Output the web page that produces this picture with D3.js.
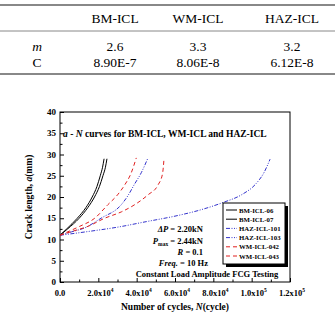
<!DOCTYPE html>
<html>
<head>
<meta charset="utf-8">
<script src="https://cdn.jsdelivr.net/npm/d3@7"></script>
<style>
  body { margin: 0; background: #fff; }
  svg { display: block; }
</style>
</head>
<body>
<div id="chart"></div>
<script>
// table values
const colNames = ['BM-ICL', 'WM-ICL', 'HAZ-ICL'];
const mValues = ['2.6', '3.3', '3.2'];
const cValues = ['8.90E-7', '8.06E-8', '6.12E-8'];

// a - N curves (N in cycles, a in mm)
const bm06N = [0, 3500, 9000, 13500, 16800, 19300, 21000, 22200, 23000];
const bm06A = [11, 12.5, 15, 17.5, 20, 22.5, 25, 27, 29];
const bm07N = [0, 4000, 10000, 14500, 18000, 20600, 22400, 23700, 24500];
const bm07A = [11, 12.5, 15, 17.5, 20, 22.5, 25, 27, 29];
const haz101N = [0, 6000, 12700, 21400, 32000, 35700, 38600, 42500, 45900];
const haz101A = [11, 11.8, 12.7, 15, 18.2, 20.5, 22.8, 25.8, 29.2];
const haz103N = [0, 15000, 30000, 45000, 60000, 72000, 85000, 95000, 102000, 106500, 109600];
const haz103A = [11, 11.9, 12.9, 14.2, 15.5, 16.8, 18.7, 20.6, 23, 25.8, 28.9];
const wm042N = [0, 5000, 10300, 18100, 25000, 30000, 33700, 37000, 39800];
const wm042A = [11, 12, 13.1, 15, 18.2, 20.5, 22.8, 25.5, 29.2];
const wm043N = [0, 7000, 14600, 23300, 32000, 39000, 45900, 51100, 53500, 54300];
const wm043A = [11, 12, 13.1, 15, 16.5, 18.2, 20.5, 22.8, 25.5, 29.2];

const seriesNames = ['BM-ICL-06', 'BM-ICL-07', 'HAZ-ICL-101', 'HAZ-ICL-103', 'WM-ICL-042', 'WM-ICL-043'];
const xTicks = [0, 20000, 40000, 60000, 80000, 100000, 120000];
const xTickLabels = [['0.0', ''], ['2.0x10', '4'], ['4.0x10', '4'], ['6.0x10', '4'], ['8.0x10', '4'], ['1.0x10', '5'], ['1.2x10', '5']];
const yTicks = [0, 5, 10, 15, 20, 25, 30, 35, 40];

const series = [
  { name: seriesNames[0], N: bm06N, a: bm06A, color: '#000', dash: null },
  { name: seriesNames[1], N: bm07N, a: bm07A, color: '#000', dash: null },
  { name: seriesNames[2], N: haz101N, a: haz101A, color: '#3333cc', dash: '4,1.5,1,1.5,1,1.5' },
  { name: seriesNames[3], N: haz103N, a: haz103A, color: '#3333cc', dash: '4,1.5,1,1.5,1,1.5' },
  { name: seriesNames[4], N: wm042N, a: wm042A, color: '#e02020', dash: '4,3' },
  { name: seriesNames[5], N: wm043N, a: wm043A, color: '#e02020', dash: '4,3' }
];

const W = 335, H = 314;
const svg = d3.select('#chart').append('svg').attr('width', W).attr('height', H);

// ---- table ----
const tFont = "'Liberation Serif', 'DejaVu Serif', serif";
svg.append('line').attr('x1', 0).attr('x2', W).attr('y1', 5).attr('y2', 5)
  .attr('stroke', '#888').attr('stroke-width', 2);
svg.append('line').attr('x1', 0).attr('x2', W).attr('y1', 31).attr('y2', 31)
  .attr('stroke', '#888').attr('stroke-width', 1);
svg.append('line').attr('x1', 0).attr('x2', W).attr('y1', 74).attr('y2', 74)
  .attr('stroke', '#888').attr('stroke-width', 2);

const colX = [115, 198, 292];
const tbl = svg.append('g').attr('font-family', tFont).attr('font-size', 13.5)
  .attr('text-anchor', 'middle').attr('fill', '#000');
tbl.selectAll('.hdr').data(colNames).enter().append('text')
  .attr('x', (d, i) => colX[i]).attr('y', 23).text((d) => d);
tbl.append('text').attr('x', 37).attr('y', 51).attr('font-style', 'italic').text('m');
tbl.append('text').attr('x', 37).attr('y', 67).text('C');
tbl.selectAll('.mv').data(mValues).enter().append('text')
  .attr('x', (d, i) => colX[i]).attr('y', 51).text((d) => d);
tbl.selectAll('.cv').data(cValues).enter().append('text')
  .attr('x', (d, i) => colX[i]).attr('y', 67).text((d) => d);

// ---- chart ----
const font = "'Liberation Serif', 'Times New Roman', serif";
const pLeft = 60, pRight = 290, pTop = 112, pBottom = 282;
const x = d3.scaleLinear().domain([0, 120000]).range([pLeft, pRight]);
const y = d3.scaleLinear().domain([0, 40]).range([pBottom, pTop]);

const g = svg.append('g').attr('font-family', font).attr('font-weight', 'bold');

g.append('rect').attr('x', pLeft).attr('y', pTop)
  .attr('width', pRight - pLeft).attr('height', pBottom - pTop)
  .attr('fill', 'none').attr('stroke', '#000').attr('stroke-width', 1);

// x axis: ticks inward
const xAxis = d3.axisBottom(x).tickValues(d3.range(0, 120001, 10000))
  .tickSize(-3).tickFormat('');
g.append('g').attr('transform', 'translate(0,' + pBottom + ')').call(xAxis)
  .call((s) => s.select('.domain').remove())
  .selectAll('line').attr('stroke', '#000')
  .attr('y2', (d) => (d % 20000 === 0 ? -4 : -2.5));

const xl = g.append('g').attr('font-size', 8.5).attr('text-anchor', 'middle');
xTicks.forEach((v, i) => {
  const t = xl.append('text').attr('x', x(v) + (i === 0 ? 0 : 2)).attr('y', 296);
  t.append('tspan').text(xTickLabels[i][0]);
  if (xTickLabels[i][1]) {
    t.append('tspan').attr('dy', -4).attr('font-size', 5.5).text(xTickLabels[i][1]);
  }
});

// y axis
const yAxis = d3.axisLeft(y).tickValues(d3.range(0, 40.1, 2.5))
  .tickSize(-3).tickFormat('');
g.append('g').attr('transform', 'translate(' + pLeft + ',0)').call(yAxis)
  .call((s) => s.select('.domain').remove())
  .selectAll('line').attr('stroke', '#000')
  .attr('x2', (d) => (d % 5 === 0 ? 4 : 2.5));

g.append('g').attr('font-size', 9).attr('text-anchor', 'end')
  .selectAll('text').data(yTicks).enter().append('text')
  .attr('x', pLeft - 4).attr('y', (d) => y(d) + 3).text((d) => d);

// axis titles
const yt = g.append('text').attr('font-size', 9.5).attr('text-anchor', 'middle')
  .attr('transform', 'translate(32,' + (pTop + pBottom) / 2 + ') rotate(-90)');
yt.append('tspan').text('Crack length, ');
yt.append('tspan').attr('font-style', 'italic').text('a');
yt.append('tspan').text('(mm)');

const xt = g.append('text').attr('font-size', 9.5).attr('text-anchor', 'middle')
  .attr('x', 175).attr('y', 310);
xt.append('tspan').text('Number of cycles, ');
xt.append('tspan').attr('font-style', 'italic').text('N');
xt.append('tspan').text('(cycle)');

// curves
const line = d3.line().x((d) => x(d[0])).y((d) => y(d[1])).curve(d3.curveMonotoneX);
g.append('g').selectAll('path').data(series).enter().append('path')
  .attr('d', (d) => line(d.N.map((n, i) => [n, d.a[i]])))
  .attr('fill', 'none').attr('stroke', (d) => d.color).attr('stroke-width', 1)
  .attr('stroke-dasharray', (d) => d.dash);

// in-plot title
const tt = g.append('text').attr('font-size', 9.5).attr('x', 63).attr('y', 137);
tt.append('tspan').attr('font-style', 'italic').text('a');
tt.append('tspan').text(' - ');
tt.append('tspan').attr('font-style', 'italic').text('N');
tt.append('tspan').text(' curves for BM-ICL, WM-ICL and HAZ-ICL');

// annotations
const ann = g.append('g').attr('font-size', 8.5).attr('text-anchor', 'end');
const a1 = ann.append('text').attr('x', 203).attr('y', 232);
a1.append('tspan').attr('font-style', 'italic').text('ΔP');
a1.append('tspan').text(' = 2.20kN');
const a2 = ann.append('text').attr('x', 203).attr('y', 244);
a2.append('tspan').attr('font-style', 'italic').text('P');
a2.append('tspan').attr('dy', 2).attr('font-size', 5.5).text('max');
a2.append('tspan').attr('dy', -2).text(' = 2.44kN');
const a3 = ann.append('text').attr('x', 203).attr('y', 255);
a3.append('tspan').attr('font-style', 'italic').text('R');
a3.append('tspan').text(' = 0.1');
const a4 = ann.append('text').attr('x', 208).attr('y', 266);
a4.append('tspan').attr('font-style', 'italic').text('Freq.');
a4.append('tspan').text(' = 10 Hz');
ann.append('text').attr('x', 207).attr('y', 277).attr('text-anchor', 'middle')
  .text('Constant Load Amplitude FCG Testing');

// legend
const lg = g.append('g');
lg.append('rect').attr('x', 226).attr('y', 206).attr('width', 62).attr('height', 61).attr('fill', '#000');
lg.append('rect').attr('x', 223).attr('y', 203).attr('width', 62).attr('height', 61)
  .attr('fill', '#fff').attr('stroke', '#000').attr('stroke-width', 1);
const row = lg.selectAll('.row').data(series).enter().append('g')
  .attr('transform', (d, i) => 'translate(0,' + (210 + i * 9.2) + ')');
row.append('line').attr('x1', 226).attr('x2', 237).attr('y1', 0).attr('y2', 0)
  .attr('stroke', (d) => d.color).attr('stroke-width', 1)
  .attr('stroke-dasharray', (d) => d.dash);
row.append('text').attr('x', 239).attr('y', 2.6).attr('font-size', 6.8).text((d) => d.name);
</script>
</body>
</html>
